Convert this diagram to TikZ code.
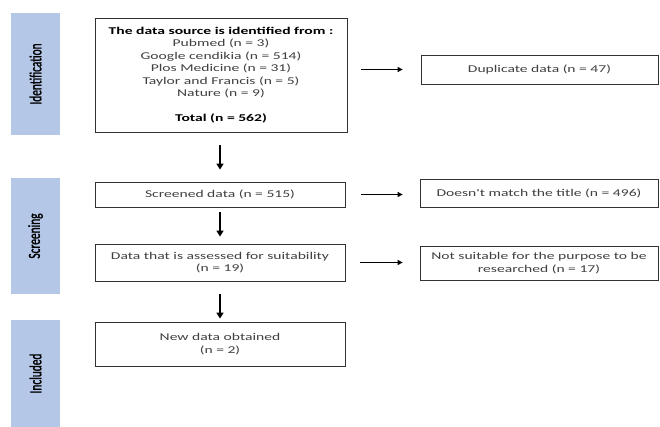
\documentclass[tikz,border=0pt]{standalone}
\usepackage{fontspec}
\setmainfont{Carlito}
\newfontfamily\boxfont[FakeStretch=1.5]{Carlito}
\newfontfamily\barfont[FakeStretch=0.67,FakeBold=1.2]{Carlito}
\usepackage{tikz}
\usetikzlibrary{arrows.meta}
\definecolor{barBlue}{RGB}{180,199,231}
\definecolor{boxText}{RGB}{64,64,64}
\definecolor{boxLine}{RGB}{50,50,50}
\tikzset{
  flow box/.style={draw=boxLine,line width=0.8pt,fill=white,align=center,text=boxText,inner sep=2pt,
    font=\boxfont\fontsize{10.4}{12.5}\selectfont},
  side bar/.style={fill=barBlue,rotate=90,minimum height=49pt,text=black,inner sep=0pt,
    font=\barfont\fontsize{17}{20}\selectfont},
  flow arrow/.style={-{Triangle[length=6pt,width=7pt]},line width=1.6pt,draw=black},
  side arrow/.style={-{Triangle[length=5pt,width=5pt]},line width=1.1pt,draw=black}
}

\begin{document}
\begin{tikzpicture}[x=1pt,y=-1pt]
        \useasboundingbox (0,0) rectangle (660,427);
        \node[side bar,minimum width=122pt] (idBar) at (35.5,74) {Identification};
        \node[side bar,minimum width=116pt] (scrBar) at (35.5,236) {Screening};
        \node[side bar,minimum width=107pt] (incBar) at (35.5,373.5) {Included};
        \node[flow box,minimum width=252pt,minimum height=114pt] (src) at (221,75) {%
          \textcolor{black}{\bfseries The data source is identified from :}\\
          Pubmed (n = 3)\\Google cendikia (n = 514)\\Plos Medicine (n = 31)\\
          Taylor and Francis (n = 5)\\Nature (n = 9)\\[12.5pt]
          \textcolor{black}{\bfseries Total (n = 562)}};
        \node[flow box,minimum width=237pt,minimum height=29pt] (dup) at (539.5,69.5) {Duplicate data (n = 47)};
        \node[flow box,minimum width=250pt,minimum height=25pt] (scr) at (220,194.5) {Screened data (n = 515)};
        \node[flow box,minimum width=238pt,minimum height=28pt] (nomatch) at (539,193) {Doesn't match the title (n = 496)};
        \node[flow box,minimum width=250pt,minimum height=37pt] (assess) at (220,262.5) {Data that is assessed for suitability\\(n = 19)};
        \node[flow box,minimum width=238pt,minimum height=34pt] (notsuit) at (539,263) {Not suitable for the purpose to be\\researched (n = 17)};
        \node[flow box,minimum width=250pt,minimum height=44pt] (newdata) at (220,344) {New data obtained\\(n = 2)};
        \draw[flow arrow,shorten <=13pt,shorten >=12pt] (src.south -| assess.south) -- (scr.north);
        \draw[flow arrow,shorten <=5pt,shorten >=7pt] (scr.south) -- (assess.north);
        \draw[flow arrow,shorten <=13pt,shorten >=3pt] (assess.south) -- (newdata.north);
        \draw[side arrow,shorten <=14pt,shorten >=18pt] (src.east |- dup.west) -- (dup.west);
        \draw[side arrow,shorten <=16pt,shorten >=17pt] (scr.east) -- (scr.east -| nomatch.west);
        \draw[side arrow,shorten <=15pt,shorten >=17pt] (assess.east) -- (assess.east -| notsuit.west);
      \end{tikzpicture}
\end{document}
